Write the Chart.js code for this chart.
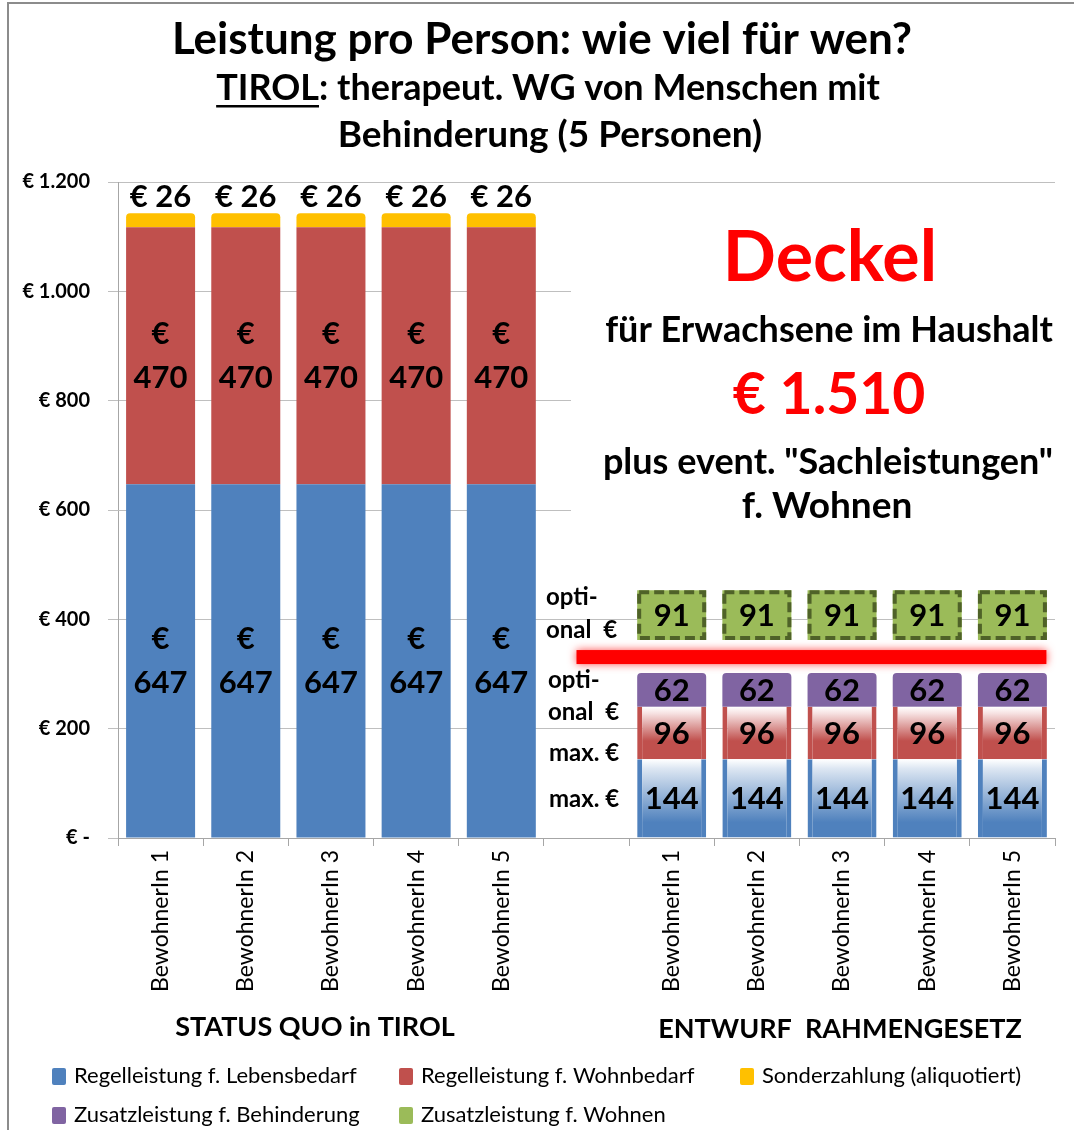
<!DOCTYPE html>
<html>
<head>
<meta charset="utf-8">
<script src="https://cdn.jsdelivr.net/npm/chart.js@4.4.1/dist/chart.umd.min.js"></script>
<style>
  html, body { margin: 0; padding: 0; background: #fff; }
  #wrap { width: 1074px; height: 1130px; }
</style>
</head>
<body>
<div id="wrap"><canvas id="chart" width="1074" height="1130"></canvas></div>
<script>
// ---------------------------Data------------------------------------------------
const categories = ['BewohnerIn 1', 'BewohnerIn 2', 'BewohnerIn 3', 'BewohnerIn 4', 'BewohnerIn 5', '',
                    'BewohnerIn 1', 'BewohnerIn 2', 'BewohnerIn 3', 'BewohnerIn 4', 'BewohnerIn 5'];
const lebensbedarf  = [647, 647, 647, 647, 647, null, 144, 144, 144, 144, 144];
const wohnbedarf    = [470, 470, 470, 470, 470, null, 96, 96, 96, 96, 96];
const sonderzahlung = [26, 26, 26, 26, 26, null, null, null, null, null, null];
const behinderung   = [null, null, null, null, null, null, 62, 62, 62, 62, 62];
const abstand       = [null, null, null, null, null, null, 60, 60, 60, 60, 60]; // unsichtbarer Abstand
const wohnen        = [null, null, null, null, null, null, 91, 91, 91, 91, 91];
const yTickLabels = ['€ -', '€ 200', '€ 400', '€ 600', '€ 800', '€ 1.000', '€ 1.200'];
const deckelLinie = 331; // rote Linie (Deckel)

const FONT = 'Lato';
const BLUE = '#4f81bd', RED = '#c0504d', YELLOW = '#ffc000', PURPLE = '#8064a2', GREEN = '#9bbb59';

// gradient fill for the right group (white at top -> colour)
function fade(color, lowArr, highArr, stop) {
  return (c) => {
    const chart = c.chart;
    if (c.dataIndex < 6 || !chart.chartArea) return color;
    const y = chart.scales.y;
    const low = lowArr ? lowArr[c.dataIndex] : 0;
    const top = y.getPixelForValue(low + highArr[c.dataIndex]);
    const bottom = y.getPixelForValue(low);
    const g = chart.ctx.createLinearGradient(0, top, 0, bottom);
    g.addColorStop(0, '#ffffff');
    g.addColorStop(0.12, color === BLUE ? '#dce6f2' : '#f7e3e3');
    g.addColorStop(stop, color);
    g.addColorStop(1, color);
    return g;
  };
}
const sideBorder = (c) => c.dataIndex > 5 ? { left: 5, right: 5, top: 0, bottom: 0 } : 0;

const datasets = [
  { label: 'Regelleistung f. Lebensbedarf', data: lebensbedarf, backgroundColor: fade(BLUE, null, lebensbedarf, 0.8), borderColor: BLUE, borderWidth: sideBorder, legendColor: BLUE },
  { label: 'Regelleistung f. Wohnbedarf', data: wohnbedarf, backgroundColor: fade(RED, lebensbedarf, wohnbedarf, 0.65), borderColor: RED, borderWidth: sideBorder, legendColor: RED },
  { label: 'Sonderzahlung (aliquotiert)', data: sonderzahlung, backgroundColor: YELLOW, borderRadius: { topLeft: 4, topRight: 4 }, borderSkipped: 'start', legendColor: YELLOW },
  { label: 'Zusatzleistung f. Behinderung', data: behinderung, backgroundColor: PURPLE, borderRadius: { topLeft: 4, topRight: 4 }, legendColor: PURPLE },
  { label: '', data: abstand, backgroundColor: 'rgba(0,0,0,0)' },
  { label: 'Zusatzleistung f. Wohnen', data: wohnen, backgroundColor: GREEN, legendColor: GREEN }
];

// ---------------------------Overlay drawing------------------------------------------------
function txt(ctx, s, x, y, font, color, align) {
  ctx.font = font;
  ctx.fillStyle = color || '#000';
  ctx.textAlign = align || 'center';
  ctx.textBaseline = 'middle';
  ctx.fillText(s, x, y);
}

const overlay = {
  id: 'overlay',
  beforeDatasetsDraw(chart) {
    const ctx = chart.ctx;
    // white text box hides the gridlines behind the "Deckel" note
    ctx.save();
    ctx.fillStyle = '#fff';
    ctx.fillRect(571, 192, 490, 356);
    ctx.restore();
  },
  afterDatasetsDraw(chart) {
    const ctx = chart.ctx;
    const y = chart.scales.y, x = chart.scales.x;
    ctx.save();

    // dashed frames round the green bars
    const gMeta = chart.getDatasetMeta(5);
    ctx.strokeStyle = '#4f6228';
    ctx.lineWidth = 4;
    ctx.setLineDash([10, 5]);
    gMeta.data.forEach((el, i) => {
      if (wohnen[i] == null) return;
      ctx.strokeRect(el.x - el.width / 2 + 2, el.y + 2, el.width - 4, el.base - el.y - 4);
    });
    ctx.setLineDash([]);

    // red cap line
    const ly = y.getPixelForValue(deckelLinie);
    const lx0 = x.getPixelForValue(5) - 10, lx1 = x.getPixelForValue(10) + 34;
    ctx.shadowColor = 'rgba(255,0,0,0.7)';
    ctx.shadowBlur = 8;
    ctx.fillStyle = '#ff0000';
    ctx.fillRect(lx0, ly - 7, lx1 - lx0, 14);
    ctx.shadowBlur = 0;
    ctx.shadowColor = 'transparent';

    // value labels
    const big = 'bold 31px ' + FONT;
    [0, 1, 3, 5].forEach(di => {
      const meta = chart.getDatasetMeta(di);
      meta.data.forEach((el, i) => {
        const v = chart.data.datasets[di].data[i];
        if (v == null) return;
        const cy = (el.y + el.base) / 2;
        if (i < 5) {
          txt(ctx, '€', el.x, cy - 22, big);
          txt(ctx, String(v), el.x, cy + 22, big);
        } else {
          txt(ctx, String(v), el.x, cy + 1, big);
        }
      });
    });
    const yMeta = chart.getDatasetMeta(2);
    yMeta.data.forEach((el, i) => {
      const v = sonderzahlung[i];
      if (v == null) return;
      txt(ctx, '€ ' + v, el.x, el.y - 16, big);
    });

    // side notes of the draft group
    const side = 'bold 24px ' + FONT;
    const sx = 546;
    txt(ctx, 'opti-', sx, y.getPixelForValue(441), side, '#000', 'left');
    txt(ctx, 'onal  €', sx, y.getPixelForValue(380), side, '#000', 'left');
    txt(ctx, 'opti-', sx + 2, y.getPixelForValue(289), side, '#000', 'left');
    txt(ctx, 'onal  €', sx + 2, y.getPixelForValue(230), side, '#000', 'left');
    txt(ctx, 'max. €', sx + 3, y.getPixelForValue(155), side, '#000', 'left');
    txt(ctx, 'max. €', sx + 3, y.getPixelForValue(70), side, '#000', 'left');

    // Deckel note
    txt(ctx, 'Deckel', 830, 258, 'bold 70px ' + FONT, '#ff0000');
    txt(ctx, 'für Erwachsene im Haushalt', 829, 330, 'bold 36px ' + FONT, '#000');
    txt(ctx, '€ 1.510', 829, 396, 'bold 57px ' + FONT, '#ff0000');
    txt(ctx, 'plus event. "Sachleistungen"', 828, 462, 'bold 36px ' + FONT, '#000');
    txt(ctx, 'f. Wohnen', 827, 506, 'bold 37px ' + FONT, '#000');
    ctx.restore();
  },
  afterDraw(chart) {
    const ctx = chart.ctx;
    ctx.save();
    // frame
    ctx.strokeStyle = '#8c8c8c';
    ctx.lineWidth = 2;
    ctx.beginPath();
    ctx.moveTo(8, 1130); ctx.lineTo(8, 3); ctx.lineTo(1074, 3);
    ctx.stroke();

    // titles
    txt(ctx, 'Leistung pro Person: wie viel für wen?', 542, 40, 'bold 44px ' + FONT);
    const tf = 'bold 36px ' + FONT;
    ctx.font = tf;
    const part1 = 'TIROL', part2 = ': therapeut. WG von Menschen mit';
    const w1 = ctx.measureText(part1).width, w2 = ctx.measureText(part2).width;
    const start = 548 - (w1 + w2) / 2;
    txt(ctx, part1, start, 88, tf, '#000', 'left');
    txt(ctx, part2, start + w1, 88, tf, '#000', 'left');
    ctx.fillStyle = '#000';
    ctx.fillRect(start, 105, w1, 2.5);
    txt(ctx, 'Behinderung (5 Personen)', 550, 135, 'bold 37px ' + FONT);

    // group captions
    txt(ctx, 'STATUS QUO in TIROL', 315, 1027, 'bold 27px ' + FONT);
    txt(ctx, 'ENTWURF  RAHMENGESETZ', 840, 1029, 'bold 27px ' + FONT);

    // legend
    const items = chart.data.datasets.filter(d => d.label);
    const slots = [[52, 1076], [399, 1076], [740, 1076], [52, 1115], [399, 1115]];
    items.forEach((d, k) => {
      const [lx, ly] = slots[k];
      ctx.fillStyle = d.legendColor;
      ctx.beginPath();
      ctx.roundRect(lx, ly - 8, 14, 17, 2);
      ctx.fill();
      txt(ctx, d.label, lx + 22, ly, '22px ' + FONT, '#000', 'left');
    });
    ctx.restore();
  }
};

// ---------------------------Chart------------------------------------------------
const ctx = document.getElementById('chart').getContext('2d');
new Chart(ctx, {
  type: 'bar',
  data: { labels: categories, datasets: datasets },
  options: {
    responsive: false,
    animation: false,
    datasets: { bar: { barPercentage: 0.81, categoryPercentage: 1 } },
    layout: { padding: { top: 182, right: 19, bottom: 130, left: 0 } },
    plugins: { legend: { display: false }, tooltip: { enabled: false }, title: { display: false } },
    scales: {
      x: {
        stacked: true,
        afterFit: (s) => { s.height = 162; },
        grid: { offset: true, drawOnChartArea: false, tickLength: 8, color: '#a6a6a6' },
        border: { color: '#a6a6a6' },
        ticks: { autoSkip: false, minRotation: 90, maxRotation: 90, padding: 4, color: '#000', font: { family: FONT, size: 23 } }
      },
      y: {
        stacked: true,
        min: 0, max: 1200,
        afterFit: (s) => { s.width = 118; },
        grid: { color: '#bfbfbf', tickLength: 10 },
        border: { color: '#a6a6a6' },
        ticks: {
          stepSize: 200, padding: 18, color: '#000',
          font: { family: FONT, size: 20, weight: 'bold' },
          callback: (v, i) => yTickLabels[i]
        }
      }
    }
  },
  plugins: [overlay]
});
</script>
</body>
</html>
